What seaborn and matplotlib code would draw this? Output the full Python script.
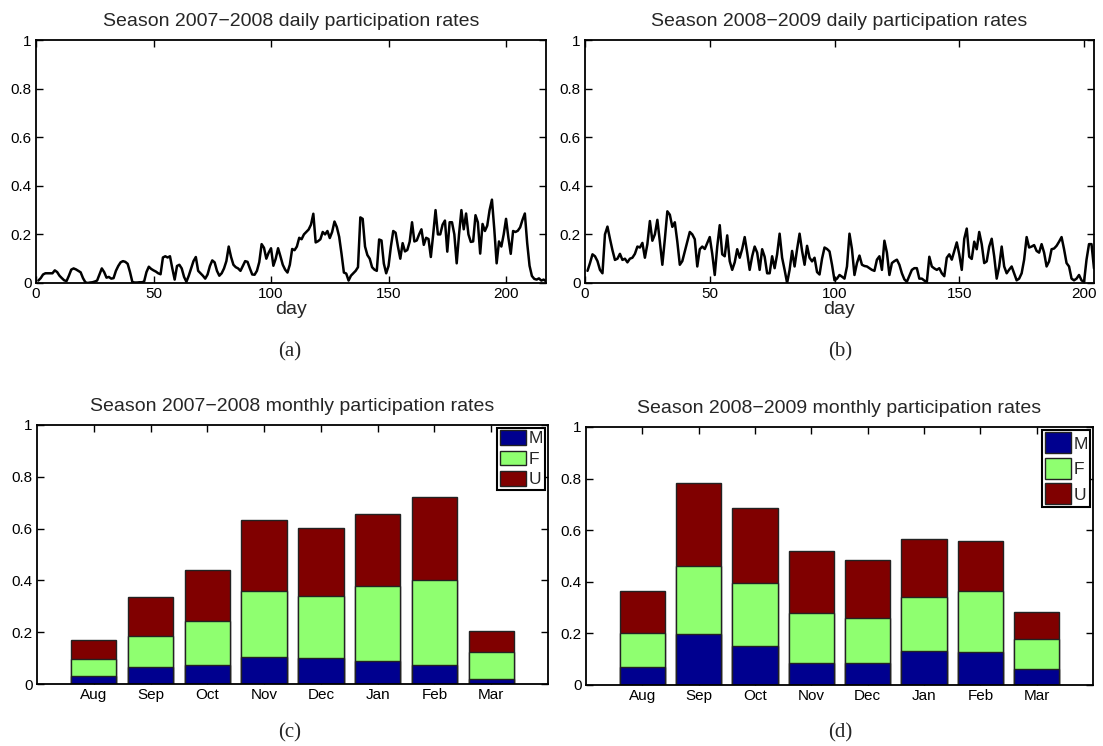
import numpy as np
import pandas as pd
import matplotlib
matplotlib.use("Agg")
import matplotlib.pyplot as plt
from matplotlib.patches import Patch
import seaborn as sns

sns.set_style("ticks")
plt.rcParams['font.family'] = ['Liberation Sans', 'DejaVu Sans']

# ---------------- data ----------------
daily_0708 = [
    0.010, 0.020, 0.035, 0.040, 0.040, 0.040, 0.040, 0.052, 0.045, 0.030,
    0.020, 0.011, 0.008, 0.030, 0.055, 0.060, 0.056, 0.050, 0.044, 0.020,
    0.003, 0.000, 0.002, 0.003, 0.006, 0.010, 0.035, 0.060, 0.045, 0.022,
    0.025, 0.018, 0.020, 0.050, 0.070, 0.085, 0.090, 0.087, 0.079, 0.045,
    0.004, 0.002, 0.002, 0.003, 0.003, 0.006, 0.045, 0.067, 0.058, 0.052,
    0.047, 0.040, 0.036, 0.105, 0.110, 0.105, 0.110, 0.060, 0.014, 0.070,
    0.075, 0.060, 0.025, 0.005, 0.030, 0.060, 0.090, 0.107, 0.050, 0.040,
    0.030, 0.018, 0.035, 0.070, 0.093, 0.085, 0.050, 0.030, 0.040, 0.060,
    0.090, 0.150, 0.107, 0.075, 0.065, 0.060, 0.050, 0.070, 0.090, 0.087,
    0.060, 0.035, 0.034, 0.050, 0.086, 0.160, 0.145, 0.100, 0.125, 0.143,
    0.071, 0.100, 0.143, 0.110, 0.075, 0.055, 0.043, 0.075, 0.140, 0.135,
    0.150, 0.186, 0.180, 0.200, 0.210, 0.220, 0.240, 0.285, 0.167, 0.172,
    0.180, 0.210, 0.200, 0.214, 0.185, 0.210, 0.253, 0.230, 0.190, 0.120,
    0.043, 0.039, 0.010, 0.030, 0.040, 0.050, 0.065, 0.270, 0.264, 0.150,
    0.115, 0.100, 0.065, 0.055, 0.050, 0.179, 0.175, 0.080, 0.040, 0.070,
    0.150, 0.214, 0.207, 0.150, 0.100, 0.164, 0.130, 0.136, 0.170, 0.250,
    0.171, 0.175, 0.200, 0.221, 0.157, 0.186, 0.181, 0.107, 0.200, 0.300,
    0.200, 0.200, 0.240, 0.257, 0.129, 0.250, 0.250, 0.200, 0.081, 0.200,
    0.300, 0.221, 0.286, 0.200, 0.169, 0.171, 0.279, 0.250, 0.121, 0.243,
    0.214, 0.236, 0.300, 0.343, 0.221, 0.081, 0.171, 0.150, 0.200, 0.264,
    0.186, 0.120, 0.214, 0.210, 0.215, 0.229, 0.260, 0.286, 0.164, 0.071,
    0.029, 0.017, 0.014, 0.019, 0.010, 0.014, 0.007,
]

daily_0809 = [
    0.050, 0.082, 0.118, 0.110, 0.090, 0.054, 0.040, 0.200, 0.232, 0.182,
    0.135, 0.095, 0.100, 0.120, 0.095, 0.100, 0.085, 0.100, 0.104, 0.120,
    0.150, 0.146, 0.165, 0.104, 0.160, 0.255, 0.174, 0.200, 0.260, 0.170,
    0.075, 0.180, 0.295, 0.281, 0.231, 0.250, 0.170, 0.075, 0.090, 0.130,
    0.170, 0.210, 0.200, 0.180, 0.068, 0.139, 0.150, 0.140, 0.165, 0.189,
    0.120, 0.033, 0.150, 0.238, 0.118, 0.110, 0.196, 0.090, 0.054, 0.085,
    0.139, 0.104, 0.140, 0.189, 0.125, 0.054, 0.110, 0.150, 0.125, 0.054,
    0.139, 0.108, 0.040, 0.040, 0.110, 0.061, 0.118, 0.203, 0.104, 0.054,
    0.000, 0.054, 0.132, 0.068, 0.139, 0.203, 0.132, 0.075, 0.153, 0.104,
    0.089, 0.104, 0.045, 0.035, 0.100, 0.146, 0.140, 0.130, 0.075, 0.011,
    0.018, 0.033, 0.026, 0.018, 0.068, 0.203, 0.139, 0.033, 0.082, 0.113,
    0.075, 0.070, 0.068, 0.061, 0.054, 0.050, 0.096, 0.110, 0.054, 0.174,
    0.125, 0.033, 0.082, 0.090, 0.096, 0.075, 0.040, 0.015, 0.005, 0.030,
    0.054, 0.061, 0.061, 0.018, 0.018, 0.010, 0.004, 0.108, 0.068, 0.060,
    0.054, 0.061, 0.040, 0.028, 0.104, 0.118, 0.096, 0.132, 0.167, 0.118,
    0.054, 0.182, 0.224, 0.108, 0.099, 0.170, 0.139, 0.210, 0.160, 0.082,
    0.089, 0.150, 0.182, 0.110, 0.018, 0.068, 0.150, 0.068, 0.040, 0.055,
    0.068, 0.040, 0.011, 0.018, 0.040, 0.096, 0.189, 0.146, 0.150, 0.156,
    0.132, 0.125, 0.160, 0.125, 0.068, 0.089, 0.139, 0.142, 0.153, 0.170,
    0.189, 0.139, 0.082, 0.068, 0.018, 0.011, 0.018, 0.033, 0.011, 0.004,
    0.096, 0.160, 0.160, 0.060,
]

months = ["Aug", "Sep", "Oct", "Nov", "Dec", "Jan", "Feb", "Mar"]
groups = ["M", "F", "U"]
group_colors = ["#00008F", "#8FFF70", "#800000"]

m_0708 = [0.032, 0.064, 0.074, 0.103, 0.099, 0.087, 0.073, 0.021]
f_0708 = [0.064, 0.123, 0.171, 0.257, 0.241, 0.291, 0.330, 0.104]
u_0708 = [0.074, 0.149, 0.194, 0.272, 0.261, 0.279, 0.320, 0.079]

m_0809 = [0.070, 0.197, 0.151, 0.085, 0.084, 0.132, 0.129, 0.062]
f_0809 = [0.130, 0.265, 0.246, 0.196, 0.177, 0.210, 0.234, 0.116]
u_0809 = [0.164, 0.321, 0.289, 0.240, 0.225, 0.224, 0.194, 0.106]

titles = [
    "Season 2007\u22122008 daily participation rates",
    "Season 2008\u22122009 daily participation rates",
    "Season 2007\u22122008 monthly participation rates",
    "Season 2008\u22122009 monthly participation rates",
]
captions = ["(a)", "(b)", "(c)", "(d)"]
yticks = [0, 0.2, 0.4, 0.6, 0.8, 1]
ytick_labels = ["0", "0.2", "0.4", "0.6", "0.8", "1"]

# ---------------- figure ----------------
W, H = 1103, 746
fig = plt.figure(figsize=(W / 100, H / 100), dpi=100)


def px_axes(left, right, top, bottom):
    return fig.add_axes([left / W, 1 - bottom / H, (right - left) / W, (bottom - top) / H])


ax_a = px_axes(36, 546, 40, 283)
ax_b = px_axes(585, 1094, 40, 283)
ax_c = px_axes(37, 548, 425, 684)
ax_d = px_axes(586, 1093, 427, 685)


def style_axes(ax):
    for s in ax.spines.values():
        s.set_visible(True)
        s.set_linewidth(1.3)
        s.set_color("black")
    ax.tick_params(direction="in", top=True, right=True, length=5, width=1,
                   labelsize=11, colors="black", pad=3)
    ax.set_ylim(0, 1)
    ax.set_yticks(yticks)
    ax.set_yticklabels(ytick_labels)
    ax.set_ylabel("")


def daily(ax, vals, title, xmax):
    df = pd.DataFrame({"day": np.arange(1, len(vals) + 1), "rate": vals})
    sns.lineplot(data=df, x="day", y="rate", ax=ax, color="black", linewidth=1.8)
    style_axes(ax)
    ax.set_xlim(0, xmax)
    ax.set_xticks([0, 50, 100, 150, 200])
    ax.set_xlabel("day", fontsize=14, labelpad=0)
    ax.set_title(title, fontsize=14, pad=10)


def monthly(ax, m, f, u, title, handleheight):
    df = pd.DataFrame({"month": months, "M": m, "F": f, "U": u})
    df["MF"] = df["M"] + df["F"]
    df["MFU"] = df["MF"] + df["U"]
    for col, c in [("MFU", group_colors[2]), ("MF", group_colors[1]), ("M", group_colors[0])]:
        sns.barplot(data=df, x="month", y=col, ax=ax, color=c, saturation=1,
                    width=0.8, edgecolor="#222222", linewidth=1.0, errorbar=None)
    style_axes(ax)
    ax.set_xlim(-1, 8)
    ax.set_xlabel("")
    ax.set_title(title, fontsize=14, pad=10)
    handles = [Patch(facecolor=c, edgecolor="#222222", linewidth=1.0) for c in group_colors]
    leg = ax.legend(handles, groups, loc="upper right", frameon=True, fancybox=False,
                    edgecolor="black", framealpha=1, borderpad=0.15, borderaxespad=0.15,
                    handlelength=1.5, handleheight=handleheight, handletextpad=0.15,
                    labelspacing=0.25, fontsize=12.5)
    leg.get_frame().set_linewidth(1.5)


daily(ax_a, daily_0708, titles[0], 217)
daily(ax_b, daily_0809, titles[1], 204)
monthly(ax_c, m_0708, f_0708, u_0708, titles[2], 0.9)
monthly(ax_d, m_0809, f_0809, u_0809, titles[3], 1.5)

for (cx, cy), cap in zip([(290, 352), (840, 352), (290, 733), (840, 733)], captions):
    fig.text(cx / W, 1 - cy / H, cap, ha="center", va="center",
             fontsize=15, family=["Liberation Serif", "DejaVu Serif"])

fig.savefig("out.png", dpi=100, facecolor="white")
